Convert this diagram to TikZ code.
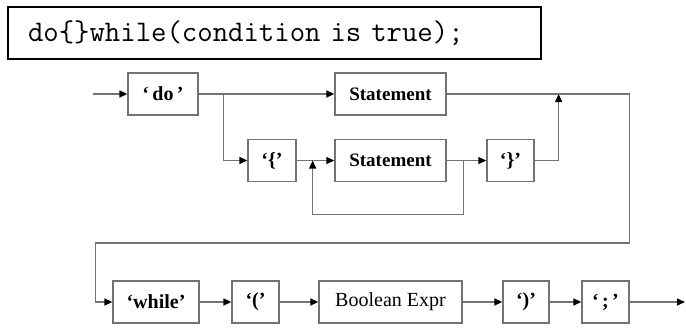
\documentclass[tikz,border=0pt]{standalone}
\usepackage{fontspec}
\setmainfont{Liberation Serif}
\usetikzlibrary{arrows.meta}

\tikzset{
    token/.style={draw=black!55, line width=1.3pt, inner sep=0pt, minimum height=42pt,
        font=\fontsize{20}{22}\selectfont},
    keyword/.style={token, font=\fontsize{20}{22}\selectfont\bfseries},
    flow/.style={draw=black!55, line width=1.3pt, -{Triangle[length=8pt, width=7pt, color=black]}}
}

\begin{document}
\begin{tikzpicture}[x=1pt, y=-1pt]
    \useasboundingbox (0,0) rectangle (686,327);

    \node[draw, line width=1.5pt, inner sep=0pt, minimum width=533pt, minimum height=52pt,
        text width=493pt, align=left, font=\ttfamily\fontsize{29.9}{32}\selectfont]
        (Code) at (274.5,33) {do\{\}while(condition is true);};

    \node[keyword, minimum width=70pt] (Do) at (163,94) {‘\,do\,’};
    \node[keyword, minimum width=111pt, font=\fontsize{19}{22}\selectfont\bfseries] (StatementA) at (390.5,94) {Statement};
    \node[keyword, minimum width=48pt] (LBrace) at (272,160.5) {‘\{’};
    \node[keyword, minimum width=111pt, font=\fontsize{19}{22}\selectfont\bfseries] (StatementB) at (390.5,160.5) {Statement};
    \node[keyword, minimum width=47pt] (RBrace) at (510.5,160.5) {‘\}’};

    \node[keyword, minimum width=86pt] (While) at (156,302) {‘while’};
    \node[keyword, minimum width=47pt] (LParen) at (255.5,302) {‘(’};
    \node[token, minimum width=143pt] (BoolExpr) at (390.5,302) {Boolean Expr};
    \node[keyword, minimum width=46pt] (RParen) at (526,302) {‘)’};
    \node[keyword, minimum width=47pt] (Semi) at (605.5,302) {‘\,;\,’};

    \coordinate (Start) at (93,94);
    \coordinate (End) at (685,302);

    \draw [flow] (Start) -- (Do);
    \draw [flow] (Do) -- (StatementA);
    \draw [flow] ([xshift=25pt]Do.east) |- (LBrace);
    \draw [flow] (LBrace) -- (StatementB);
    \draw [flow] (StatementB) -- (RBrace);
    \draw [flow] ([xshift=17pt]StatementB.east) -- ++(0,54) -| ([xshift=16pt]LBrace.east);
    \draw [flow] (RBrace) -| ([xshift=112pt]StatementA.east);
    \draw [flow] (StatementA.east) -- ++(183,0) |- ([xshift=-17pt, yshift=59pt]While.west) |- (While.west);

    \draw [flow] (While) -- (LParen);
    \draw [flow] (LParen) -- (BoolExpr);
    \draw [flow] (BoolExpr) -- (RParen);
    \draw [flow] (RParen) -- (Semi);
    \draw [flow] (Semi) -- (End);

\end{tikzpicture}
\end{document}
